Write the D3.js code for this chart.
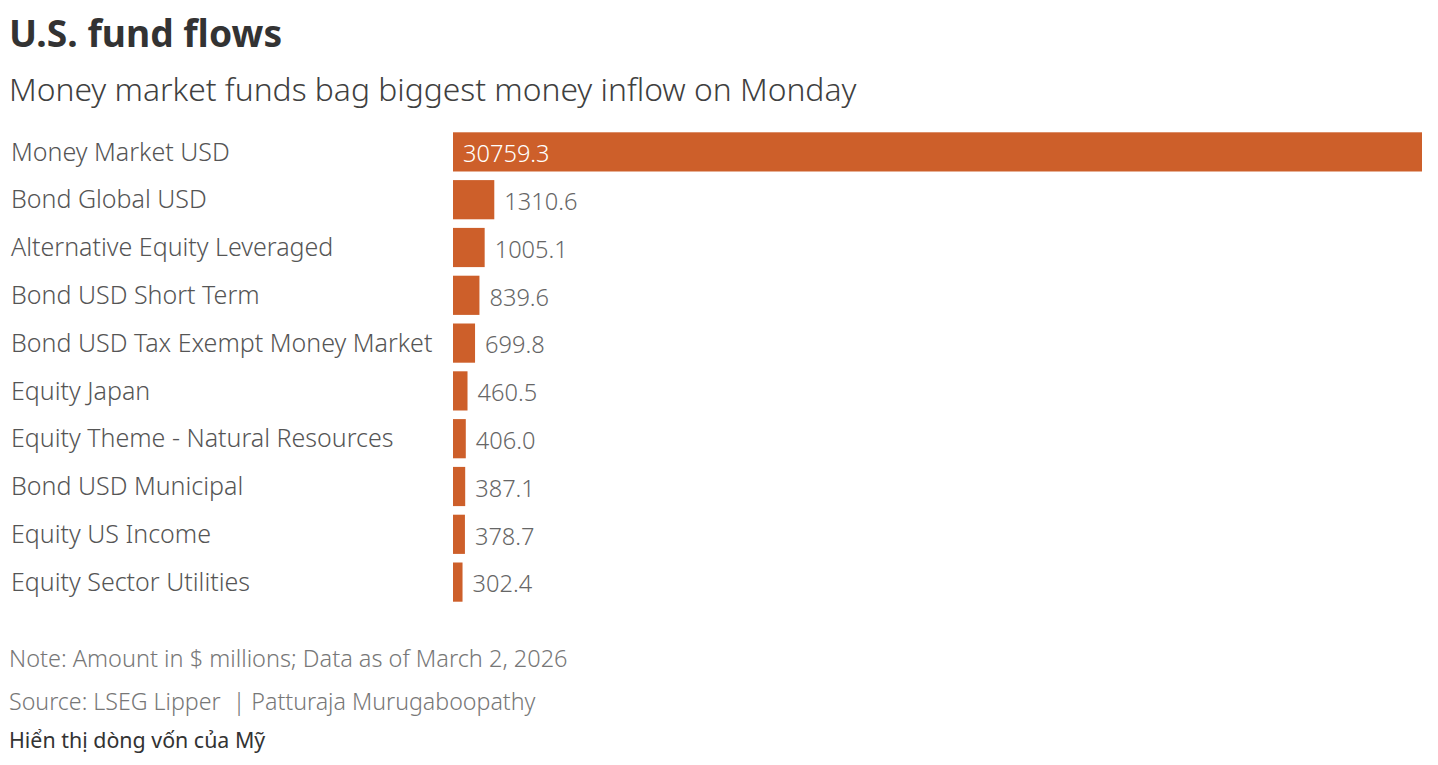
<html>
<head>
<script src="https://cdn.jsdelivr.net/npm/d3@7"></script>
<style>
  body { margin: 0; background: #fff; font-family: "Noto Sans", sans-serif; }
</style>
</head>
<body>
<script>
// fund categories and net flows ($ millions)
var categories = ["Money Market USD", "Bond Global USD", "Alternative Equity Leveraged",
  "Bond USD Short Term", "Bond USD Tax Exempt Money Market", "Equity Japan",
  "Equity Theme - Natural Resources", "Bond USD Municipal", "Equity US Income",
  "Equity Sector Utilities"];
var flows = [30759.3, 1310.6, 1005.1, 839.6, 699.8, 460.5, 406.0, 387.1, 378.7, 302.4];

var width = 1438, height = 765;
var svg = d3.select("body").append("svg")
  .attr("width", width).attr("height", height);

// title + subtitle
svg.append("text").attr("x", 9).attr("y", 47)
  .style("font-size", "37.2px").style("font-weight", "700").style("fill", "#333")
  .text("U.S. fund flows");
svg.append("text").attr("x", 9).attr("y", 101)
  .style("font-size", "31.8px").style("font-weight", "300").style("fill", "#404040")
  .text("Money market funds bag biggest money inflow on Monday");

var x = d3.scaleLinear().domain([0, d3.max(flows)]).range([453, 1422]);
var y = d3.scaleBand().domain(categories).range([128, 606])
  .paddingInner(0.18).paddingOuter(0.09);

var rows = svg.selectAll("g.row").data(categories).enter()
  .append("g").attr("class", "row");

rows.append("text")
  .attr("x", 11)
  .attr("y", function (d) { return y(d) + y.bandwidth() / 2; })
  .attr("dy", "0.35em")
  .style("font-size", "25px").style("font-weight", "300").style("fill", "#555")
  .text(function (d) { return d; });

rows.append("rect")
  .attr("x", x(0))
  .attr("y", function (d) { return y(d); })
  .attr("width", function (d, i) { return x(flows[i]) - x(0); })
  .attr("height", y.bandwidth())
  .style("fill", "#cd5f2a");

// value labels: inside the wide bar, outside otherwise
rows.append("text")
  .attr("x", function (d, i) {
    var w = x(flows[i]) - x(0);
    return w > 200 ? x(0) + 10 : x(flows[i]) + 10;
  })
  .attr("y", function (d) { return y(d) + y.bandwidth() / 2 + 2; })
  .attr("dy", "0.35em")
  .style("font-size", "23.6px").style("font-weight", "300")
  .style("fill", function (d, i) { return x(flows[i]) - x(0) > 200 ? "#fff" : "#666"; })
  .text(function (d, i) { return flows[i].toFixed(1); });

// footer notes
svg.append("text").attr("x", 9).attr("y", 667)
  .style("font-size", "23.5px").style("font-weight", "300").style("fill", "#777")
  .text("Note: Amount in $ millions; Data as of March 2, 2026");
svg.append("text").attr("x", 9).attr("y", 710)
  .style("font-size", "23.2px").style("font-weight", "300").style("fill", "#777")
  .style("white-space", "pre")
  .text("Source: LSEG Lipper  | Patturaja Murugaboopathy");
svg.append("text").attr("x", 9).attr("y", 748)
  .style("font-size", "21.4px").style("fill", "#333")
  .text("Hiển thị dòng vốn của Mỹ");
</script>
</body>
</html>
